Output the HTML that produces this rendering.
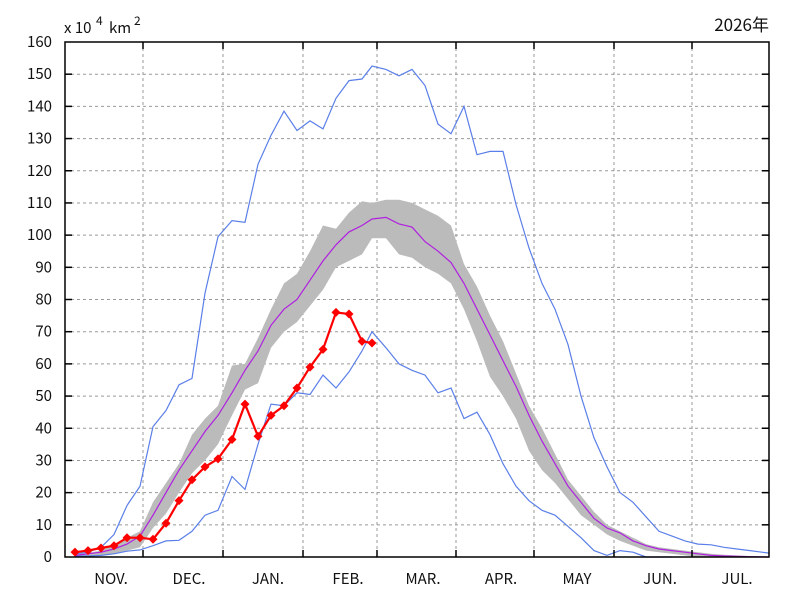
<!DOCTYPE html>
<html><head><meta charset="utf-8"><style>
body{margin:0;background:#fff;}
svg{display:block;font-family:"Noto Sans CJK JP","Liberation Sans",sans-serif;}
</style></head><body>
<svg id="s" width="800" height="600" xmlns="http://www.w3.org/2000/svg">
<rect width="800" height="600" fill="#fff"/>
<g id="grid" stroke="#999" stroke-dasharray="3,3" stroke-width="1"></g>
<g id="data"></g>
<rect x="65" y="42" width="704" height="515" fill="none" stroke="#000" stroke-width="1.5"/>
<g id="ticks" stroke="#000" stroke-width="1.5"></g>
<g id="lab" font-size="15" fill="#111"></g>
<text x="64" y="33" font-size="15" fill="#111">x 10</text>
<text x="96" y="25" font-size="12" fill="#111">4</text>
<text x="109" y="33" font-size="15" fill="#111">km</text>
<text x="134" y="25" font-size="12" fill="#111">2</text>
<text x="769" y="31" font-size="17" fill="#111" text-anchor="end">2026年</text>
</svg>
<script>
var Y=function(v){return 557-v*3.21875;};
var ns="http://www.w3.org/2000/svg";
function el(p,t,a,txt){var e=document.createElementNS(ns,t);for(var k in a)e.setAttribute(k,a[k]);if(txt!==undefined)e.textContent=txt;document.getElementById(p).appendChild(e);return e;}
for(var v=10;v<160;v+=10){el('grid','line',{x1:65,x2:769,y1:Y(v),y2:Y(v)});}
var gx=[143,223,303,377,456,534,614,692];
gx.forEach(function(x){el('grid','line',{x1:x,x2:x,y1:42,y2:557});el('ticks','line',{x1:x,x2:x,y1:557,y2:550});el('ticks','line',{x1:x,x2:x,y1:42,y2:49});});
for(var v=0;v<=160;v+=10){el('lab','text',{x:52,y:Y(v)+5,'text-anchor':'end'},String(v));if(v>0&&v<160){el('ticks','line',{x1:65,x2:72,y1:Y(v),y2:Y(v)});el('ticks','line',{x1:769,x2:762,y1:Y(v),y2:Y(v)});}}
var ml=[["NOV.",111],["DEC.",189],["JAN.",268],["FEB.",348],["MAR.",423],["APR.",501],["MAY",577],["JUN.",660],["JUL.",737]];
ml.forEach(function(m){el('lab','text',{x:m[1],y:584,'text-anchor':'middle'},m[0]);});
var X=[75,88,101,114,127,140,153,166,179,192,205,218,232,245,258,271,284,297,310,323,336,349,362,372,386,399,412,425,438,451,464,477,490,503,516,529,542,555,568,581,594,607,620,633,646,659,672,685,698,711,724,737,750,769];
var up=[1,1.3,2,4,6,8,17,23,29,38,43,47,59.5,60,68,77,85,88,95,103,102,107,110.5,110,111,111,110,108,106,103,91,84,75,67,57,47,40,32,24,19,14,10,8,6,4,3,2.5,2,1.5,1,0.7,0.5,0.3,0.1];
var lo=[0,0.2,0.5,1,2,3,9,13.5,20,26,30,35,44,52,54,65,70,73,78,83,90,92,94,99,99,94,93,90,88,85,77,67,56,50,43,33,27,23,18,13,10,7,5,3.5,2,1.5,1,0.5,0,0,0,0,0,0];
var mean=[0.5,1,1.5,2.5,4,6.5,13,20,27,33,39,44,51,58,64,72,77,80,86,92,97,101,103,105,105.5,103.5,102.5,98,95,91.5,85,77,69,61,53,44,36,29,22,17,12,9,7.5,5,3.5,2.5,2,1.5,1,0.5,0.3,0.2,0.1,0];
var mx=[1,1.5,3,7,16,22,40.5,45.5,53.5,55.5,82,99.5,104.5,104,122,131,138.5,132.5,135.5,133,142.5,148,148.5,152.5,151.5,149.5,151.5,146.5,134.5,131.5,140,125,126,126,109.5,96,85,77,66,50,37,28,20,17,12.5,8,6.5,5,4,3.8,3,2.5,2,1.2];
var mn=[0.3,0.3,0.5,1,1.8,2.2,3.5,5,5.2,8,13,14.5,25,21,35,47.5,47,51,50.5,56.5,52.5,57.5,64,70,65,60,58,56.5,51,52.5,43,45,38,29,22,17.5,14.5,13,9.5,6,2,0.5,2,1.5,0,0,0];
var rx=[75,88,101,114,127,140,153,166,179,192,205,218,232,245,258,271,284,297,310,323,336,349,362,372];
var rv=[1.5,2,2.8,3.5,6,6,5.5,10.5,17.5,24,28,30.5,36.5,47.5,37.5,44,47,52.5,59,64.5,76,75.5,67,66.5];
function pts(xs,vs){var s=[];for(var i=0;i<vs.length;i++)s.push(xs[i]+","+Y(vs[i]).toFixed(1));return s.join(" ");}
var bp=[];for(var i=0;i<X.length;i++)bp.push(X[i]+","+Y(up[i]).toFixed(1));for(var i=X.length-1;i>=0;i--)bp.push(X[i]+","+Y(lo[i]).toFixed(1));
el('data','polygon',{points:bp.join(" "),fill:"#bbbbbb"});
el('data','polyline',{points:pts(X,mx),fill:"none",stroke:"#5b7fe8","stroke-width":1.2});
el('data','polyline',{points:pts(X,mn),fill:"none",stroke:"#5b7fe8","stroke-width":1.2});
el('data','polyline',{points:pts(X,mean),fill:"none",stroke:"#b020e0","stroke-width":1.2});
el('data','polyline',{points:pts(rx,rv),fill:"none",stroke:"#ff0000","stroke-width":2.2});
for(var i=0;i<rx.length;i++){var x=rx[i],y=Y(rv[i]);el('data','polygon',{points:(x-4.5)+","+y+" "+x+","+(y-4.5)+" "+(x+4.5)+","+y+" "+x+","+(y+4.5),fill:"#ff0000"});}
</script>
</body></html>
